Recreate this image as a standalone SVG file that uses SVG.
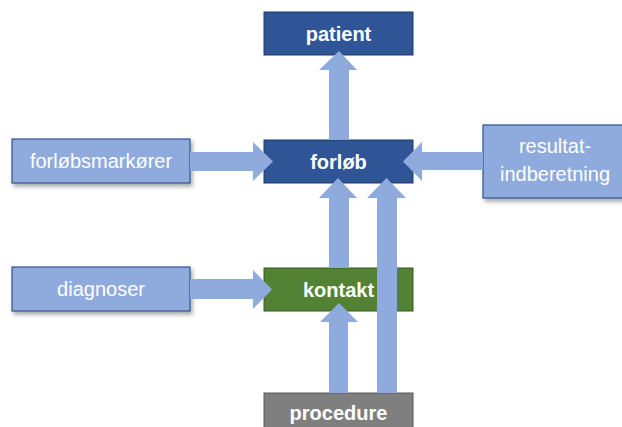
<svg xmlns="http://www.w3.org/2000/svg" width="622" height="427" viewBox="0 0 622 427">
<defs>
<filter id="sh" x="-10%" y="-20%" width="130%" height="160%">
<feDropShadow dx="2" dy="3" stdDeviation="2" flood-color="#000" flood-opacity="0.35"/>
</filter>
<style>
.dark{fill:#2F5597;stroke:#203864;stroke-width:1}
.light{fill:#8FAADC;stroke:#2F528F;stroke-width:1.2}
.arr{fill:#8FAADC}
.bt{font-family:"Liberation Sans",Arial,sans-serif;font-weight:bold;font-size:20px;fill:#fff;text-anchor:middle}
.lt{font-family:"Liberation Sans",Arial,sans-serif;font-size:20px;fill:#fff;text-anchor:middle}
</style>
</defs>
<rect width="622" height="427" fill="#fff"/>
<g id="patient"><rect class="dark" x="264" y="12" width="149" height="43"/><text class="bt" x="338.5" y="40.5">patient</text></g>
<g id="forlob"><rect class="dark" x="264" y="140" width="149" height="43"/><text class="bt" x="338.5" y="168.5">forløb</text></g>
<g id="kontakt"><rect x="264" y="268" width="149" height="43" fill="#548235" stroke="#385723"/><text class="bt" x="338.5" y="296.5">kontakt</text></g>
<g id="procedure"><rect x="264" y="393" width="149" height="40" fill="#7F7F7F" stroke="#595959"/><text class="bt" x="338.5" y="420">procedure</text></g>
<g id="forlobsmarkorer"><rect class="light" filter="url(#sh)" x="12" y="139" width="178" height="44"/><text class="lt" x="101" y="168">forløbsmarkører</text></g>
<g id="diagnoser"><rect class="light" filter="url(#sh)" x="12" y="267" width="178" height="44"/><text class="lt" x="101" y="296">diagnoser</text></g>
<g id="resultatindberetning"><rect class="light" filter="url(#sh)" x="483" y="125" width="145" height="73"/><text class="lt" x="555" y="153">resultat-</text><text class="lt" x="555" y="181">indberetning</text></g>
<g id="connectors" class="arr">
<polygon points="329,140 329,70 319,70 339,51 357,70 349,70 349,140"/>
<polygon points="190,152 253,152 253,142 273,161.5 253,181 253,171 190,171"/>
<polygon points="190,279 253,279 253,270 272,289.5 253,309 253,299 190,299"/>
<polygon points="483,152 422,152 422,142 403,161.5 422,181 422,170 483,170"/>
<polygon points="329,268 329,198 319,198 338,178 357,198 349,198 349,268"/>
<polygon points="377,393 377,198 367,198 386.5,178 406,198 397,198 397,393"/>
<polygon points="329,393 329,322 320,322 339,303 358,322 348,322 348,393"/>
</g>
</svg>
